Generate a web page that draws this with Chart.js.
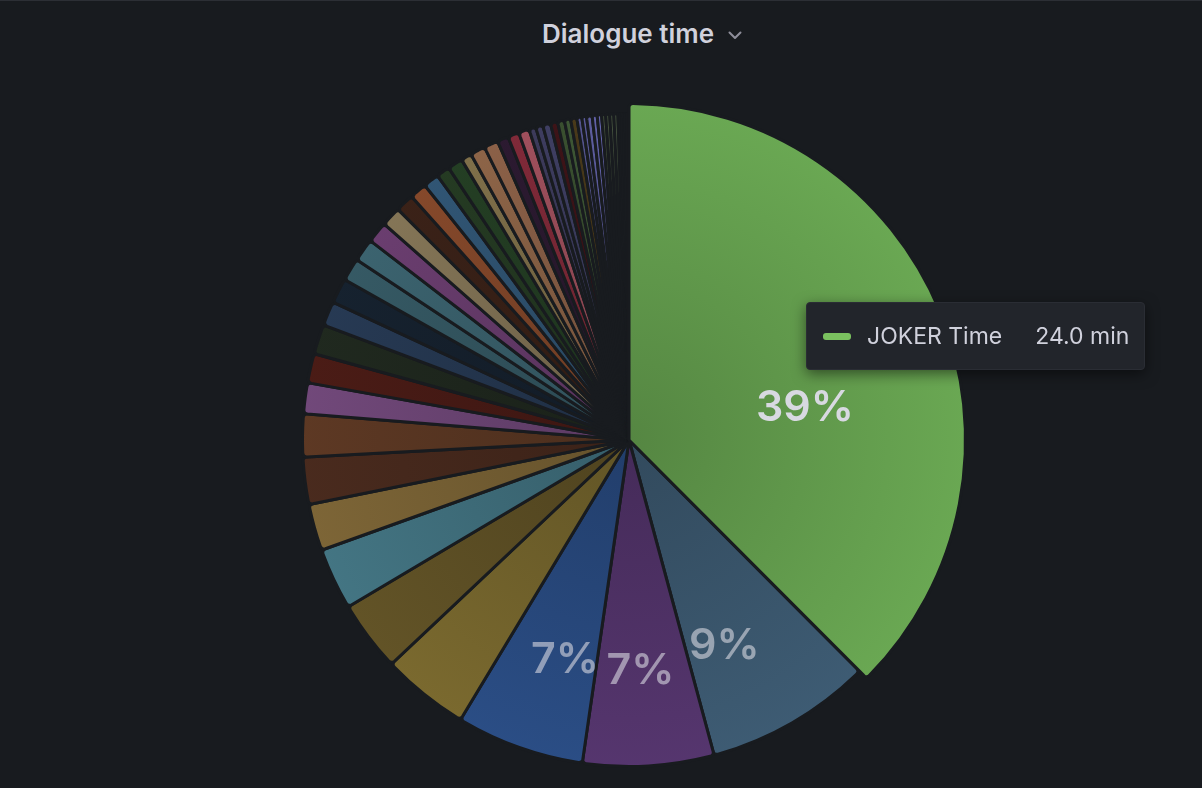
<!DOCTYPE html>
<html>
<head>
<meta charset="utf-8">
<script src="https://cdn.jsdelivr.net/npm/chart.js@4.4.1/dist/chart.umd.min.js"></script>
<style>
  html, body { margin: 0; padding: 0; background: #181b1f; }
  #wrap { position: relative; width: 1202px; height: 788px; overflow: hidden; background: #181b1f; }
  #topline { position: absolute; left: 0; top: 0; width: 1202px; height: 1px; background: #2c2f35; }
  #title { position: absolute; left: 628px; top: 19px; transform: translateX(-50%); white-space: nowrap;
           font: 600 26px Inter, "Open Sans", sans-serif; line-height: 30px; color: #d0d1dc; }
  #title svg { position: absolute; left: calc(100% + 14px); top: 12px; }
  #c { position: absolute; left: 0; top: 0; }
  #tip { position: absolute; display: none; align-items: center; height: 68px; box-sizing: border-box;
         padding: 0 15px 0 16px; background: #22252b; border: 1px solid #2a2d34; border-radius: 4px;
         box-shadow: 0 4px 14px rgba(0,0,0,0.5); font: 400 23px Inter, sans-serif; color: #d0d1dc; white-space: nowrap; }
  #tip .sw { display: inline-block; width: 28px; height: 7px; border-radius: 3px; margin-right: 16px; }
  #tip .vl { margin-left: 33px; }
</style>
</head>
<body>
<div id="wrap">
  <div id="topline"></div>
  <div id="title">Dialogue time<svg width="14" height="9" viewBox="0 0 14 9"><polyline points="1.5,1.5 7,7 12.5,1.5" fill="none" stroke="#8e8e9a" stroke-width="2" stroke-linecap="round" stroke-linejoin="round"/></svg></div>
  <canvas id="c" width="1202" height="788"></canvas>
  <div id="tip"><span class="sw"></span><span class="nm"></span><span class="vl"></span></div>
</div>
<script>
// ---- data (minutes of dialogue per character) ----
const CATEGORIES = [
  "JOKER Time", "Character 2 Time", "Character 3 Time", "Character 4 Time", "Character 5 Time",
  "Character 6 Time", "Character 7 Time", "Character 8 Time", "Character 9 Time", "Character 10 Time",
  "Character 11 Time", "Character 12 Time", "Character 13 Time", "Character 14 Time", "Character 15 Time",
  "Character 16 Time", "Character 17 Time", "Character 18 Time", "Character 19 Time", "Character 20 Time",
  "Character 21 Time", "Character 22 Time", "Character 23 Time", "Character 24 Time", "Character 25 Time",
  "Character 26 Time", "Character 27 Time", "Character 28 Time", "Character 29 Time", "Character 30 Time",
  "Character 31 Time", "Character 32 Time", "Character 33 Time", "Character 34 Time", "Character 35 Time",
  "Character 36 Time", "Character 37 Time", "Character 38 Time", "Character 39 Time", "Character 40 Time",
  "Character 41 Time", "Character 42 Time", "Character 43 Time", "Character 44 Time", "Character 45 Time",
  "Character 46 Time", "Character 47 Time", "Character 48 Time", "Character 49 Time", "Character 50 Time",
  "Character 51 Time", "Character 52 Time"
];
const MINUTES = [
  24.0, 5.25, 4.10, 4.01, 2.72, 2.19, 1.90, 1.42, 1.44, 1.30,
  0.92, 0.87, 0.89, 0.71, 0.74, 0.67, 0.67, 0.62, 0.57, 0.53,
  0.48, 0.44, 0.37, 0.42, 0.28, 0.42, 0.39, 0.30, 0.30, 0.28,
  0.16, 0.17, 0.19, 0.17, 0.16, 0.14, 0.14, 0.10, 0.09, 0.12,
  0.10, 0.08, 0.07, 0.07, 0.07, 0.07, 0, 0, 0, 0,
  0, 0
];
const UNIT = "min";
const HOVERED = "JOKER Time";

// ---- styles ----
const COLORS = [
  "#6aa853", "#3e5c74", "#56366f", "#2b4e86", "#7b6a2f", "#635427", "#447684", "#7e6637", "#4a2b1e", "#5e3924",
  "#72497b", "#4b1c16", "#20291f", "#273a54", "#16222f", "#365a65", "#3c6470", "#6b3e70", "#857657", "#3b2218",
  "#86492b", "#315675", "#253b23", "#243f24", "#80704a", "#8e6548", "#8c6148", "#2c1a31", "#812a39", "#a0505d",
  "#3d3b5c", "#3e3d60", "#3f3f63", "#3e1418", "#3a5030", "#3e5735", "#4a3a1a", "#55558f", "#5a5a99", "#5e5ea0",
  "#6262a8", "#6565ae", "#47553f", "#47553f", "#4a5842", "#4a5842", "#2a2d33", "#2a2d33", "#2a2d33", "#2a2d33",
  "#2a2d33", "#2a2d33"
];
const BG = "#181b1f";
const PAD_MIN = 0.058;      // emulates Grafana's pad angle between slices
const HOVER_GROW = 10;      // px the hovered slice grows
const LABEL_MIN_PCT = 5;

const TOTAL = MINUTES.reduce((a, b) => a + b, 0);
const chartData = MINUTES.map(v => v + PAD_MIN);

function shade(hex, f) {
  const n = parseInt(hex.slice(1), 16);
  const r = Math.min(255, Math.round(((n >> 16) & 255) * f));
  const g = Math.min(255, Math.round(((n >> 8) & 255) * f));
  const b = Math.min(255, Math.round((n & 255) * f));
  return `rgb(${r},${g},${b})`;
}

function sliceFill(ctx) {
  const color = COLORS[ctx.dataIndex];
  const chart = ctx.chart;
  const area = chart.chartArea;
  if (!area) return color;
  const cx = (area.left + area.right) / 2, cy = (area.top + area.bottom) / 2;
  const g = chart.ctx.createRadialGradient(cx, cy, 0, cx, cy, 340);
  g.addColorStop(0, shade(color, 0.8));
  g.addColorStop(1, color);
  return g;
}

const growPlugin = {
  id: 'growHovered',
  beforeDatasetDraw(chart, args) {
    const saved = [];
    chart.getActiveElements().forEach(a => {
      const el = args.meta.data[a.index];
      if (el) { saved.push([el, el.outerRadius]); el.outerRadius += HOVER_GROW; }
    });
    args.meta._grown = saved;
  },
  afterDatasetDraw(chart, args) {
    (args.meta._grown || []).forEach(([el, r]) => { el.outerRadius = r; });
    args.meta._grown = [];
  }
};

const labelPlugin = {
  id: 'pctLabels',
  afterDatasetsDraw(chart) {
    const ctx = chart.ctx;
    const meta = chart.getDatasetMeta(0);
    const active = chart.getActiveElements().map(a => a.index);
    meta.data.forEach((arc, i) => {
      const pct = MINUTES[i] / TOTAL * 100;
      if (pct < LABEL_MIN_PCT) return;
      const mid = (arc.startAngle + arc.endAngle) / 2;
      const r = arc.outerRadius * 0.583;
      const x = arc.x + Math.cos(mid) * r;
      const y = arc.y + Math.sin(mid) * r + 38;
      ctx.save();
      ctx.font = '600 43px Inter, sans-serif';
      ctx.textAlign = 'center';
      ctx.textBaseline = 'alphabetic';
      ctx.fillStyle = (active.length && !active.includes(i)) ? 'rgba(216,217,225,0.6)' : '#d8d9e1';
      ctx.fillText(Math.round(pct) + '%', x, y + 16);
      ctx.restore();
    });
  }
};

Chart.Tooltip.positioners.cursor = function (elements, eventPosition) { return eventPosition; };

function externalTip({ tooltip }) {
  const el = document.getElementById('tip');
  if (!tooltip.dataPoints || !tooltip.dataPoints.length) { el.style.display = 'none'; return; }
  const i = tooltip.dataPoints[0].dataIndex;
  el.querySelector('.sw').style.background = shade(COLORS[i], 1.15);
  el.querySelector('.nm').textContent = CATEGORIES[i];
  el.querySelector('.vl').textContent = MINUTES[i].toFixed(1) + ' ' + UNIT;
  el.style.left = tooltip.caretX + 'px';
  el.style.top = tooltip.caretY + 'px';
  el.style.display = 'flex';
}

Chart.defaults.font.family = 'Inter, sans-serif';

const chart = new Chart(document.getElementById('c'), {
  type: 'pie',
  data: {
    labels: CATEGORIES,
    datasets: [{
      data: chartData,
      backgroundColor: sliceFill,
      hoverBackgroundColor: sliceFill,
      borderColor: BG,
      hoverBorderColor: BG,
      borderWidth: 3,
      hoverBorderWidth: 3,
      borderRadius: 4,
      hoverOffset: 0,
      offset: 0
    }]
  },
  options: {
    responsive: false,
    devicePixelRatio: 1,
    animation: false,
    events: [],
    radius: 326.5,
    rotation: 0,
    layout: { padding: { left: 56, right: 0, top: 92, bottom: 0 } },
    plugins: {
      legend: { display: false },
      title: { display: false },
      tooltip: { enabled: false, position: 'cursor', external: externalTip }
    }
  },
  plugins: [growPlugin, labelPlugin]
});

const hi = CATEGORIES.indexOf(HOVERED);
chart.setActiveElements([{ datasetIndex: 0, index: hi }]);
chart.tooltip.setActiveElements([{ datasetIndex: 0, index: hi }], { x: 806, y: 302 });
chart.update();
</script>
</body>
</html>
